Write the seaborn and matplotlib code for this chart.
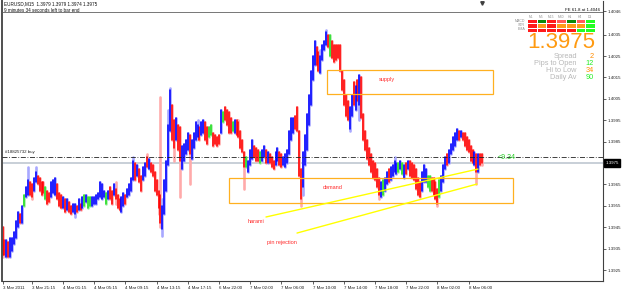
import numpy as np
import pandas as pd
import matplotlib
matplotlib.use("Agg")
import matplotlib.pyplot as plt
import matplotlib.transforms as mtransforms
from matplotlib.colors import ListedColormap
import seaborn as sns

# ---------------- data (EURUSD M15) ----------------
opens = [
    1.3945, 1.3939, 1.3931, 1.3938, 1.3931, 1.3934, 1.3937, 1.3940, 1.3945, 1.3951,
    1.3947, 1.3955, 1.3959, 1.3960, 1.3966, 1.3965, 1.3962, 1.3966, 1.3969, 1.3968,
    1.3966, 1.3966, 1.3958, 1.3962, 1.3961, 1.3959, 1.3961, 1.3960, 1.3965, 1.3961,
    1.3960, 1.3954, 1.3958, 1.3953, 1.3957, 1.3955, 1.3952, 1.3951, 1.3955, 1.3953,
    1.3956, 1.3954, 1.3955, 1.3957, 1.3954, 1.3955, 1.3955, 1.3956, 1.3956, 1.3958,
    1.3959, 1.3958, 1.3959, 1.3956, 1.3958, 1.3964, 1.3962, 1.3960, 1.3963, 1.3960,
    1.3958, 1.3952, 1.3955, 1.3960, 1.3959, 1.3960, 1.3962, 1.3967, 1.3975, 1.3969,
    1.3972, 1.3969, 1.3967, 1.3969, 1.3978, 1.3972, 1.3975, 1.3974, 1.3971, 1.3967,
    1.3962, 1.3960, 1.3944, 1.3951, 1.3962, 1.3974, 1.3990, 1.4002, 1.3995, 1.3986,
    1.3993, 1.3992, 1.3972, 1.3976, 1.3979, 1.3981, 1.3988, 1.3977, 1.3982, 1.3986,
    1.3987, 1.3992, 1.3988, 1.3989, 1.3994, 1.3992, 1.3987, 1.3988, 1.3989, 1.3988,
    1.3987, 1.3988, 1.3989, 1.3994, 1.4001, 1.4000, 1.3999, 1.3996, 1.3990, 1.3989,
    1.3995, 1.3994, 1.3990, 1.3986, 1.3980, 1.3973, 1.3971, 1.3974, 1.3977, 1.3983,
    1.3982, 1.3981, 1.3975, 1.3976, 1.3978, 1.3981, 1.3975, 1.3979, 1.3978, 1.3976,
    1.3974, 1.3976, 1.3980, 1.3979, 1.3974, 1.3973, 1.3975, 1.3979, 1.3986, 1.3989,
    1.3997, 1.4001, 1.3990, 1.3972, 1.3964, 1.3974, 1.3981, 1.3993, 1.4002, 1.4014,
    1.4021, 1.4029, 1.4027, 1.4017, 1.4023, 1.4028, 1.4030, 1.4035, 1.4025, 1.4032,
    1.4030, 1.4030, 1.4030, 1.4030, 1.4018, 1.4014, 1.4007, 1.4004, 1.3991, 1.3997,
    1.4013, 1.4000, 1.4014, 1.4002, 1.4015, 1.3998, 1.3990, 1.3986, 1.3982, 1.3979,
    1.3976, 1.3975, 1.3972, 1.3968, 1.3959, 1.3960, 1.3962, 1.3965, 1.3972, 1.3967,
    1.3969, 1.3971, 1.3970, 1.3971, 1.3972, 1.3970, 1.3968, 1.3975, 1.3972, 1.3976,
    1.3975, 1.3974, 1.3972, 1.3968, 1.3966, 1.3962, 1.3966, 1.3966, 1.3964, 1.3962,
    1.3968, 1.3968, 1.3966, 1.3963, 1.3959, 1.3962, 1.3966, 1.3972, 1.3979, 1.3975,
    1.3979, 1.3981, 1.3983, 1.3986, 1.3990, 1.3987, 1.3989, 1.3989, 1.3987, 1.3986,
    1.3983, 1.3981, 1.3974, 1.3979, 1.3971, 1.3979, 1.3979,
]
closes = [
    1.3932, 1.3932, 1.3939, 1.3931, 1.3940, 1.3940, 1.3943, 1.3948, 1.3952, 1.3947,
    1.3955, 1.3960, 1.3964, 1.3967, 1.3960, 1.3959, 1.3968, 1.3971, 1.3965, 1.3962,
    1.3960, 1.3961, 1.3964, 1.3956, 1.3957, 1.3966, 1.3967, 1.3968, 1.3958, 1.3955,
    1.3954, 1.3959, 1.3952, 1.3958, 1.3952, 1.3951, 1.3956, 1.3956, 1.3952, 1.3958,
    1.3953, 1.3959, 1.3960, 1.3960, 1.3959, 1.3959, 1.3959, 1.3959, 1.3960, 1.3961,
    1.3966, 1.3965, 1.3962, 1.3961, 1.3962, 1.3958, 1.3956, 1.3965, 1.3958, 1.3954,
    1.3953, 1.3959, 1.3961, 1.3956, 1.3963, 1.3965, 1.3968, 1.3976, 1.3967, 1.3974,
    1.3966, 1.3962, 1.3973, 1.3975, 1.3973, 1.3977, 1.3971, 1.3969, 1.3962, 1.3960,
    1.3954, 1.3947, 1.3955, 1.3967, 1.3976, 1.3993, 1.4009, 1.3986, 1.3982, 1.3996,
    1.3981, 1.3976, 1.3983, 1.3984, 1.3986, 1.3989, 1.3979, 1.3986, 1.3989, 1.3994,
    1.3993, 1.3986, 1.3994, 1.3995, 1.3986, 1.3984, 1.3992, 1.3993, 1.3983, 1.3984,
    1.3983, 1.3984, 1.4000, 1.3999, 1.3995, 1.3993, 1.3989, 1.3989, 1.3994, 1.3995,
    1.3988, 1.3987, 1.3982, 1.3980, 1.3973, 1.3978, 1.3976, 1.3981, 1.3986, 1.3978,
    1.3976, 1.3976, 1.3980, 1.3981, 1.3983, 1.3975, 1.3980, 1.3975, 1.3973, 1.3972,
    1.3980, 1.3982, 1.3974, 1.3973, 1.3978, 1.3979, 1.3981, 1.3990, 1.3996, 1.3996,
    1.3991, 1.3990, 1.3969, 1.3958, 1.3980, 1.3988, 1.3998, 1.4007, 1.4018, 1.4025,
    1.4032, 1.4021, 1.4018, 1.4025, 1.4030, 1.4032, 1.4036, 1.4029, 1.4035, 1.4024,
    1.4022, 1.4023, 1.4024, 1.4018, 1.4009, 1.4002, 1.3997, 1.3995, 1.4001, 1.4007,
    1.4002, 1.4011, 1.4004, 1.4016, 1.3996, 1.3986, 1.3981, 1.3977, 1.3974, 1.3971,
    1.3968, 1.3967, 1.3964, 1.3960, 1.3966, 1.3967, 1.3968, 1.3971, 1.3966, 1.3973,
    1.3974, 1.3976, 1.3975, 1.3975, 1.3976, 1.3975, 1.3974, 1.3970, 1.3976, 1.3969,
    1.3968, 1.3967, 1.3963, 1.3960, 1.3959, 1.3971, 1.3974, 1.3972, 1.3969, 1.3969,
    1.3962, 1.3960, 1.3958, 1.3956, 1.3967, 1.3969, 1.3974, 1.3978, 1.3974, 1.3981,
    1.3984, 1.3987, 1.3989, 1.3991, 1.3986, 1.3990, 1.3986, 1.3983, 1.3981, 1.3980,
    1.3976, 1.3975, 1.3980, 1.3971, 1.3979, 1.3974, 1.3975,
]
wick_high = {13: 1.3973, 17: 1.3973, 58: 1.3966, 67: 1.3978, 74: 1.3979, 81: 1.4006,
             82: 1.3958, 85: 1.4000, 86: 1.4010, 100: 1.3995, 121: 1.3995, 163: 1.4028,
             166: 1.4037, 201: 1.3978, 246: 1.3979}
wick_low = {0: 1.3931, 15: 1.3958, 37: 1.3950, 58: 1.3956, 80: 1.3951, 81: 1.3945,
            82: 1.3941, 88: 1.3976, 91: 1.3959, 96: 1.3965, 124: 1.3963, 153: 1.3955,
            154: 1.3960, 178: 1.3990, 183: 1.3995, 193: 1.3958, 223: 1.3955, 243: 1.3965,
            246: 1.3974}
green_bars = [11, 22, 42, 44, 45, 53, 106, 107, 113, 118, 125, 132, 168, 195, 203,
              205, 218, 219, 224]

time_tick_bars = [0, 15, 31, 47, 63, 79, 95, 111, 127, 143, 159, 175, 191, 207, 223, 239]
time_tick_labels = ["3 Mar 2011", "3 Mar 21:15", "4 Mar 01:15", "4 Mar 05:15",
                    "4 Mar 09:15", "4 Mar 13:15", "4 Mar 17:15", "6 Mar 22:00",
                    "7 Mar 02:00", "7 Mar 06:00", "7 Mar 10:00", "7 Mar 14:00",
                    "7 Mar 18:00", "7 Mar 22:00", "8 Mar 02:00", "8 Mar 06:00"]
price_ticks = [1.4046, 1.4035, 1.4025, 1.4015, 1.4005, 1.3995, 1.3985,
               1.3965, 1.3955, 1.3945, 1.3935, 1.3925]
current_price = 1.3975
order_price = 1.39778
fe_price = 1.40455

supply_zone = {"x0": 166.4, "x1": 251.5, "lo": 1.40072, "hi": 1.40185}
demand_zone = {"x0": 116.2, "x1": 261.8, "lo": 1.39563, "hi": 1.39680}
harami_line_x = [135.1, 243.8]
harami_line_y = [1.39498, 1.39722]
pin_line_x = [151.0, 243.3]
pin_line_y = [1.39423, 1.39652]

ind_rows = ["MACD", "STR", "EMA"]
ind_cols = ["M1", "M5", "M15", "M30", "H1", "H4", "D1"]
ind_states = [[0, 3, 0, 1, 3, 1, 4],
              [0, 2, 0, 2, 2, 2, 4],
              [0, 0, 0, 0, 0, 4, 4]]
stat_names = ["Spread", "Pips to Open", "Hi to Low", "Daily Av"]
stat_values = ["2", "12", "34", "90"]

# ---------------- build frames ----------------
n = len(opens)
assert len(closes) == n
highs = [max(o, c) for o, c in zip(opens, closes)]
lows = [min(o, c) for o, c in zip(opens, closes)]
for k, v in wick_high.items():
    highs[k] = v
for k, v in wick_low.items():
    lows[k] = v
kinds = []
for i, (o, c) in enumerate(zip(opens, closes)):
    if i in green_bars:
        kinds.append("green")
    elif c >= o:
        kinds.append("up")
    else:
        kinds.append("down")

idx = np.arange(n)
body = pd.DataFrame({
    "bar": np.repeat(idx, 2),
    "price": np.column_stack([opens, closes]).ravel(),
    "kind": np.repeat(kinds, 2),
})
rng = pd.DataFrame({
    "bar": np.repeat(idx, 2),
    "price": np.column_stack([lows, highs]).ravel(),
    "kind": np.repeat(kinds, 2),
})

# ---------------- figure ----------------
sns.set_theme(style="white")
plt.rcParams["font.family"] = ["Liberation Sans", "DejaVu Sans"]

W, H = 625, 292
fig = plt.figure(figsize=(W / 100, H / 100), dpi=100)
fig.patch.set_facecolor("white")
ax = fig.add_axes([2 / W, 11 / H, 601 / W, 280 / H])
ax.set_facecolor("white")

light_pal = {"up": "#a8a8ff", "down": "#ffaaaa", "green": "#a8f0a8"}
solid_pal = {"up": "#0000ff", "down": "#ff0000", "green": "#22dd22"}

sns.lineplot(data=rng, x="bar", y="price", units="bar", estimator=None, hue="kind",
             palette=light_pal, linewidth=1.9, legend=False, sort=False, ax=ax)
sns.lineplot(data=body, x="bar", y="price", units="bar", estimator=None, hue="kind",
             palette=solid_pal, linewidth=1.15, legend=False, sort=False, ax=ax)

ax.set_xlim(-0.26, 307.9)
ax.set_ylim(1.39199, 1.40507)
ax.set_xlabel("")
ax.set_ylabel("")

# lines
ax.axhline(current_price, color="#c4ccd4", lw=1.3, zorder=1)
ax.axhline(order_price, color="#202020", lw=0.6, dashes=(6, 2, 1, 2), zorder=3)
ax.axhline(fe_price, color="#606060", lw=0.6, zorder=3)
ax.text(1.3, order_price + 0.00012, "#18825732 buy", fontsize=3.2, color="#202020",
        va="bottom", ha="left")
ax.text(254.1, order_price, "<9.34", fontsize=5, color="#22cc22", va="center", ha="left")

# zones
for z, label in [(supply_zone, "supply"), (demand_zone, "demand")]:
    ax.add_patch(plt.Rectangle((z["x0"], z["lo"]), z["x1"] - z["x0"], z["hi"] - z["lo"],
                               fill=False, ec="#ffb020", lw=0.9, zorder=2))
ax.text(197.2, 1.40138, "supply", fontsize=4, color="#ff2a2a", ha="center", va="center")
ax.text(169.5, 1.39638, "demand", fontsize=4, color="#ff2a2a", ha="center", va="center")

# trend lines
ax.plot(harami_line_x, harami_line_y, color="#ffff00", lw=1.0, zorder=4)
ax.plot(pin_line_x, pin_line_y, color="#ffff00", lw=1.0, zorder=4)
ax.text(130.0, 1.39479, "harami", fontsize=4, color="#ff2a2a", ha="center", va="center")
ax.text(143.3, 1.39381, "pin rejection", fontsize=4, color="#ff2a2a", ha="center", va="center")

# axes styling
for s in ["top"]:
    ax.spines[s].set_visible(False)
ax.spines["left"].set_color("#505050")
ax.spines["left"].set_linewidth(1.4)
ax.spines["bottom"].set_color("#404040")
ax.spines["bottom"].set_linewidth(0.8)
ax.spines["right"].set_color("#404040")
ax.spines["right"].set_linewidth(0.8)

ax.set_xticks(time_tick_bars)
ax.set_xticklabels(time_tick_labels, fontsize=3.2, ha="left")
ax.tick_params(axis="x", direction="out", length=2.5, width=0.5, pad=1.2, colors="#202020",
               bottom=True)
ax.yaxis.tick_right()
ax.set_yticks(price_ticks)
ax.set_yticklabels([f"{p:.4f}" for p in price_ticks], fontsize=3.2)
ax.tick_params(axis="y", direction="out", length=2, width=0.5, pad=1.5, colors="#202020",
               right=True)

blend = mtransforms.blended_transform_factory(ax.transAxes, ax.transData)
ax.text(1.004, current_price, f"{current_price:.4f}", transform=blend, color="white",
        fontsize=3.2, va="center", ha="left",
        bbox=dict(boxstyle="square,pad=0.35", fc="black", ec="black"))

# chart shift marker
ax.plot([245.9], [1.40497], marker="v", ms=2.5, color="#404040", clip_on=False)

# header texts
def ftext(x, y, s, **kw):
    fig.text(x / W, 1 - y / H, s, **kw)

ftext(4, 4, "EURUSD,M15  1.3979 1.3979 1.3974 1.3975", fontsize=3.3, va="center", color="#101010")
ftext(4, 10.5, "9 minutes 34 seconds left to bar end", fontsize=3.3, va="center", color="#101010")
ftext(600, 10, "FE 61.8 at 1.4046", fontsize=3.2, va="center", ha="right", color="#101010")

# indicator panel
ax_ind = fig.add_axes([527 / W, 1 - 32 / H, 68 / W, 13 / H])
ind_df = pd.DataFrame(ind_states, index=ind_rows, columns=ind_cols)
cmap = ListedColormap(["#ff1a1a", "#ff5a5a", "#ff9a1a", "#0a8a0a", "#22ff22"])
sns.heatmap(ind_df, cmap=cmap, vmin=-0.5, vmax=4.5, cbar=False, linewidths=0.7,
            linecolor="white", xticklabels=False, yticklabels=False, ax=ax_ind)
for r, name in enumerate(ind_rows):
    ftext(525, 20.5 + r * 4.4, name, fontsize=2.6, ha="right", va="center", color="#909090")
for c, name in enumerate(ind_cols):
    ftext(531.5 + c * 9.7, 16.5, name, fontsize=2.4, ha="center", va="center", color="#909090")

ftext(561, 43, "1.3975", fontsize=16, ha="center", va="center", color="#ff9a10")
stat_colors = ["#ff8c00", "#22ee22", "#ff8c00", "#22ee22"]
for k, (nm, val, col) in enumerate(zip(stat_names, stat_values, stat_colors)):
    yy = 56 + k * 7.3
    ftext(577, yy, nm, fontsize=5.3, ha="right", va="center", color="#b8b8b8")
    ftext(594, yy, val, fontsize=5.3, ha="right", va="center", color=col)

fig.savefig("out.png", dpi=100, facecolor="white")
